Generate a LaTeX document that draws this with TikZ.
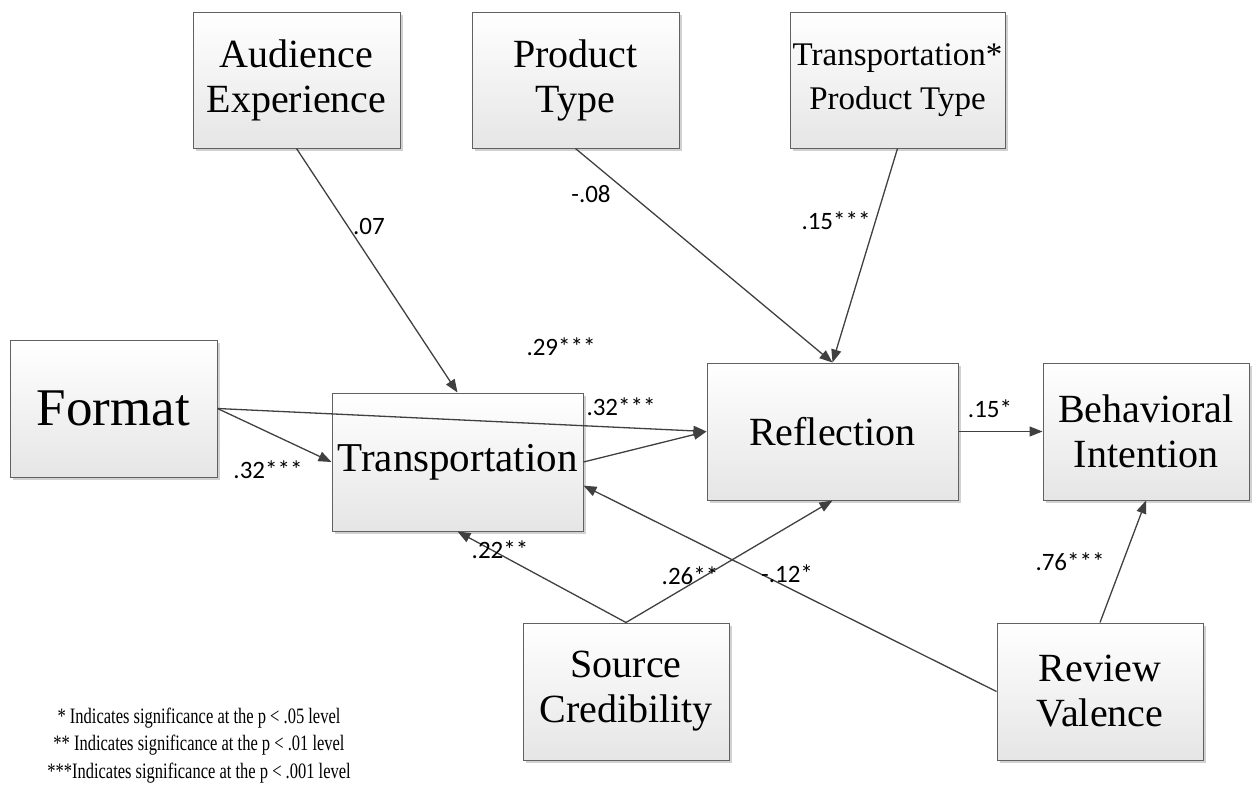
\documentclass[tikz,border=0pt]{standalone}
\usepackage{fontspec}
\setmainfont{Liberation Serif}
\newfontfamily\lblfont{Carlito}
\usetikzlibrary{arrows.meta,shadows,calc}
\tikzset{
  box/.style={draw=black!62, line width=1pt, top color=white, bottom color=black!10,
    drop shadow={shadow xshift=2.5pt, shadow yshift=-2.5pt, fill=black!18, opacity=1},
    align=center, inner sep=2pt, font=\fontsize{40}{45}\selectfont},
  conn/.style={draw=black!75, line width=1.3pt, -{Triangle[length=13pt,width=10pt]}},
  lbl/.style={font=\lblfont\fontsize{25}{27}\selectfont, inner sep=0pt, text=black},
  note/.style={font=\fontsize{22}{27.5}\selectfont, inner sep=0pt, align=center}
}
\newcommand{\bx}[7][]{\node[box, minimum width={(#5-#3)*1pt}, minimum height={(#6-#4)*1pt}, #1] (#2) at ({(#3+#5)/2},{(#4+#6)/2}) {#7};}
\begin{document}
\begin{tikzpicture}[x=1pt,y=-1pt]
\useasboundingbox (0,0) rectangle (1256,790);
\bx{aud}{193}{12}{400}{148}{Audience\\Experience}
\bx{prod}{472}{12}{679}{148}{Product\\Type}
\bx[font=\fontsize{33}{44}\selectfont]{tpt}{790}{12}{1005}{148}{Transportation*\\Product Type}
\bx[font=\fontsize{53}{58}\selectfont]{fmt}{10}{340}{217}{477}{Format}
\bx[font=\fontsize{41}{45}\selectfont]{trn}{332}{393}{583}{531}{Transportation}
\bx{ref}{707}{363}{958}{500}{Reflection}
\bx{beh}{1043}{363}{1249}{500}{Behavioral\\Intention}
\bx{src}{523}{623}{729}{760}{Source\\Credibility}
\bx{rev}{997}{623}{1203}{760}{Review\\Valence}

\coordinate (trnR) at ($(trn.south east)!0.33!(trn.north east)$);
\draw[conn] (aud.south) -- (trn.north);
\draw[conn] (prod.south) -- (ref.north);
\draw[conn] (tpt.south) -- (ref.north);
\draw[conn] (fmt.east) -- (trn.west);
\draw[conn] (fmt.east) -- (ref.west);
\draw[conn] (trn.east) -- (ref.west);
\draw[conn] (ref.east) -- (beh.west);
\draw[conn] (src.north) -- (trn.south);
\draw[conn] (src.north) -- (ref.south);
\draw[conn] (rev.west) -- (trnR);
\draw[conn] (rev.north) -- (beh.south);

\node[lbl] (l1) at (369,226) {.07};
\node[lbl] (l2) at (591,194) {-.08};
\node[lbl] (l3) at (836,221) {.15***};
\node[lbl] (l4) at (561,347) {.29***};
\node[lbl] (l5) at (268,470) {.32***};
\node[lbl] (l6) at (621,407) {.32***};
\node[lbl] (l7) at (990,409) {.15*};
\node[lbl] (l8) at (500,550) {.22**};
\node[lbl] (l9) at (690,576) {.26**};
\node[lbl] (l10) at (787,574) {-.12*};
\node[lbl] (l11) at (1070,562) {.76***};

\node[note] (n1) at (199,718) {\scalebox{0.75}[1]{* Indicates significance at the p {\textless} .05 level}};
\node[note] (n2) at (199,745) {\scalebox{0.75}[1]{** Indicates significance at the p {\textless} .01 level}};
\node[note] (n3) at (199,773) {\scalebox{0.75}[1]{***Indicates significance at the p {\textless} .001 level}};
\end{tikzpicture}
\end{document}
